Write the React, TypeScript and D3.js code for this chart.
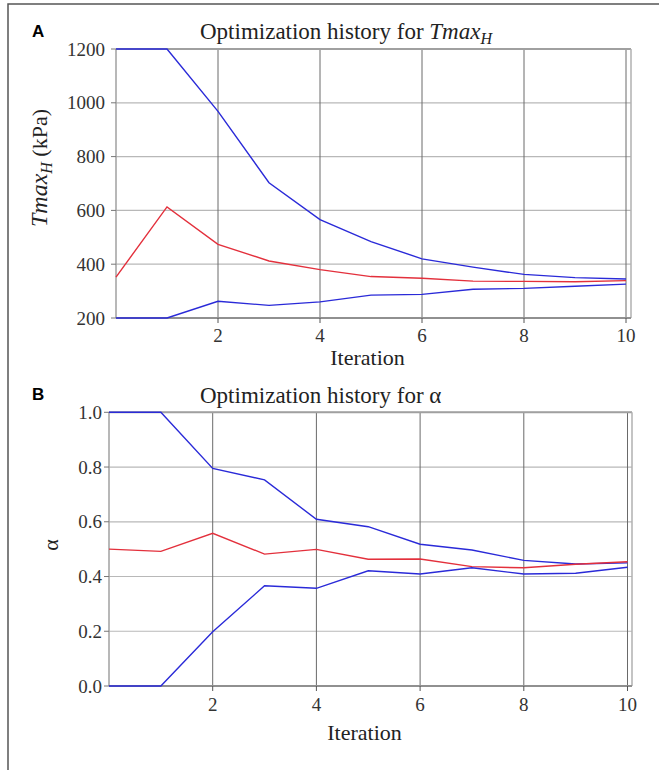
import React from "react";
import * as d3 from "d3";

const iterations = [0, 1, 2, 3, 4, 5, 6, 7, 8, 9, 10];

// Panel A: Tmax_H (kPa)
const tmaxUpper = [1200, 1200, 968, 703, 566, 484, 420, 389, 362, 350, 345];
const tmaxMid = [352, 613, 474, 412, 380, 354, 348, 337, 336, 335, 339];
const tmaxLower = [200, 200, 262, 247, 260, 285, 288, 307, 310, 318, 326];
const tmaxTicks = [200, 400, 600, 800, 1000, 1200];

// Panel B: alpha
const alphaUpper = [1.0, 1.0, 0.795, 0.753, 0.609, 0.582, 0.518, 0.497, 0.459, 0.446, 0.45];
const alphaMid = [0.5, 0.492, 0.558, 0.482, 0.499, 0.463, 0.464, 0.436, 0.432, 0.445, 0.454];
const alphaLower = [0.0, 0.0, 0.198, 0.366, 0.357, 0.421, 0.409, 0.432, 0.409, 0.412, 0.434];
const alphaTicks = [0.0, 0.2, 0.4, 0.6, 0.8, 1.0];

const xTicks = [2, 4, 6, 8, 10];

const BLUE = "#2a2ad8";
const RED = "#e3303c";
const SERIF = "'Liberation Serif', 'Times New Roman', serif";

type PanelProps = {
  x0: number;
  x1: number;
  xFrame: number;
  yTop: number;
  yBot: number;
  yDomain: [number, number];
  yTicks: number[];
  yFmt: (v: number) => string;
  series: { values: number[]; color: string }[];
  title: React.ReactNode;
  titleY: number;
  yLabel: React.ReactNode;
  yLabelX: number;
  yLabelY: number;
  yLabelSize: number;
  xLabelY: number;
  tickLabelY: number;
  tickLabelRight: number;
  letter: string;
  letterY: number;
};

function Panel(p: PanelProps) {
  const x = d3.scaleLinear().domain([0, 10]).range([p.x0, p.x1]);
  const y = d3.scaleLinear().domain(p.yDomain).range([p.yBot, p.yTop]);
  const line = (vals: number[]) =>
    d3
      .line<number>()
      .x((_, i) => x(iterations[i]))
      .y((d) => y(d))(vals) as string;
  return (
    <g>
      <text x={32} y={p.letterY} fontFamily="'Liberation Sans', Arial, sans-serif" fontWeight="bold" fontSize={17} fill="#000">
        {p.letter}
      </text>
      <text x={200} y={p.titleY} fontFamily={SERIF} fontSize={23} fill="#222">
        {p.title}
      </text>
      {/* horizontal grid */}
      {p.yTicks.map((t) => (
        <line key={"h" + t} x1={p.x0} x2={p.xFrame} y1={y(t)} y2={y(t)} stroke="#b8b8b8" strokeWidth={1.2} />
      ))}
      {/* vertical grid */}
      {xTicks.map((t) => (
        <line key={"v" + t} x1={x(t)} x2={x(t)} y1={p.yTop} y2={p.yBot} stroke="#6a6a6a" strokeWidth={1} />
      ))}
      {/* frame */}
      <line x1={p.x0} x2={p.xFrame} y1={p.yTop} y2={p.yTop} stroke="#a0a0a0" strokeWidth={2} />
      <line x1={p.xFrame} x2={p.xFrame} y1={p.yTop} y2={p.yBot} stroke="#b0b0b0" strokeWidth={1.5} />
      <line x1={p.x0} x2={p.x0} y1={p.yTop} y2={p.yBot} stroke="#a0a0a0" strokeWidth={1.5} />
      <line x1={p.x0} x2={p.xFrame} y1={p.yBot} y2={p.yBot} stroke="#909090" strokeWidth={2} />
      {/* ticks */}
      {p.yTicks.map((t) => (
        <g key={"yt" + t}>
          <line x1={p.x0 - 5} x2={p.x0} y1={y(t)} y2={y(t)} stroke="#777" strokeWidth={1} />
          <text x={p.tickLabelRight} y={y(t) + 6.5} textAnchor="end" fontFamily={SERIF} fontSize={19} fill="#333">
            {p.yFmt(t)}
          </text>
        </g>
      ))}
      {xTicks.map((t) => (
        <g key={"xt" + t}>
          <line x1={x(t)} x2={x(t)} y1={p.yBot} y2={p.yBot + 5} stroke="#555" strokeWidth={1} />
          <text x={x(t)} y={p.tickLabelY} textAnchor="middle" fontFamily={SERIF} fontSize={19} fill="#333">
            {t}
          </text>
        </g>
      ))}
      {/* data */}
      {p.series.map((s, i) => (
        <path key={i} d={line(s.values)} fill="none" stroke={s.color} strokeWidth={1.4} />
      ))}
      <text x={(p.x0 + p.xFrame) / 2 - 6} y={p.xLabelY} textAnchor="middle" fontFamily={SERIF} fontSize={22} fill="#222">
        Iteration
      </text>
      <text
        transform={`translate(${p.yLabelX},${p.yLabelY}) rotate(-90)`}
        textAnchor="middle"
        fontFamily={SERIF}
        fontSize={p.yLabelSize}
        fill="#222"
      >
        {p.yLabel}
      </text>
    </g>
  );
}

export default function App() {
  return (
    <svg width={659} height={770} style={{ position: "absolute", left: 0, top: 0, background: "#fff" }}>
      <rect x={0} y={0} width={659} height={770} fill="#fff" />
      <rect x={8} y={4} width={700} height={800} fill="none" stroke="#555" strokeWidth={1.5} />
      <Panel
        x0={116}
        x1={626}
        xFrame={631}
        yTop={49}
        yBot={318}
        yDomain={[200, 1200]}
        yTicks={tmaxTicks}
        yFmt={(v) => String(v)}
        series={[
          { values: tmaxUpper, color: BLUE },
          { values: tmaxMid, color: RED },
          { values: tmaxLower, color: BLUE },
        ]}
        title={
          <>
            <tspan>Optimization history for </tspan>
            <tspan fontStyle="italic">Tmax</tspan>
            <tspan fontStyle="italic" fontSize={16} dy={5}>H</tspan>
          </>
        }
        titleY={39}
        yLabel={
          <>
            <tspan fontStyle="italic" fontSize={24}>Tmax</tspan>
            <tspan fontStyle="italic" fontSize={16} dy={5}>H</tspan>
            <tspan dy={-5}> (kPa)</tspan>
          </>
        }
        yLabelX={47}
        yLabelY={168}
        yLabelSize={22}
        xLabelY={365}
        tickLabelY={342}
        tickLabelRight={105}
        letter="A"
        letterY={37}
      />
      <Panel
        x0={109}
        x1={627.5}
        xFrame={632}
        yTop={412.3}
        yBot={686}
        yDomain={[0, 1]}
        yTicks={alphaTicks}
        yFmt={(v) => v.toFixed(1)}
        series={[
          { values: alphaUpper, color: BLUE },
          { values: alphaMid, color: RED },
          { values: alphaLower, color: BLUE },
        ]}
        title={<tspan>Optimization history for α</tspan>}
        titleY={403}
        yLabel={<tspan>α</tspan>}
        yLabelX={58}
        yLabelY={545}
        yLabelSize={22}
        xLabelY={740}
        tickLabelY={711}
        tickLabelRight={102}
        letter="B"
        letterY={400}
      />
    </svg>
  );
}
